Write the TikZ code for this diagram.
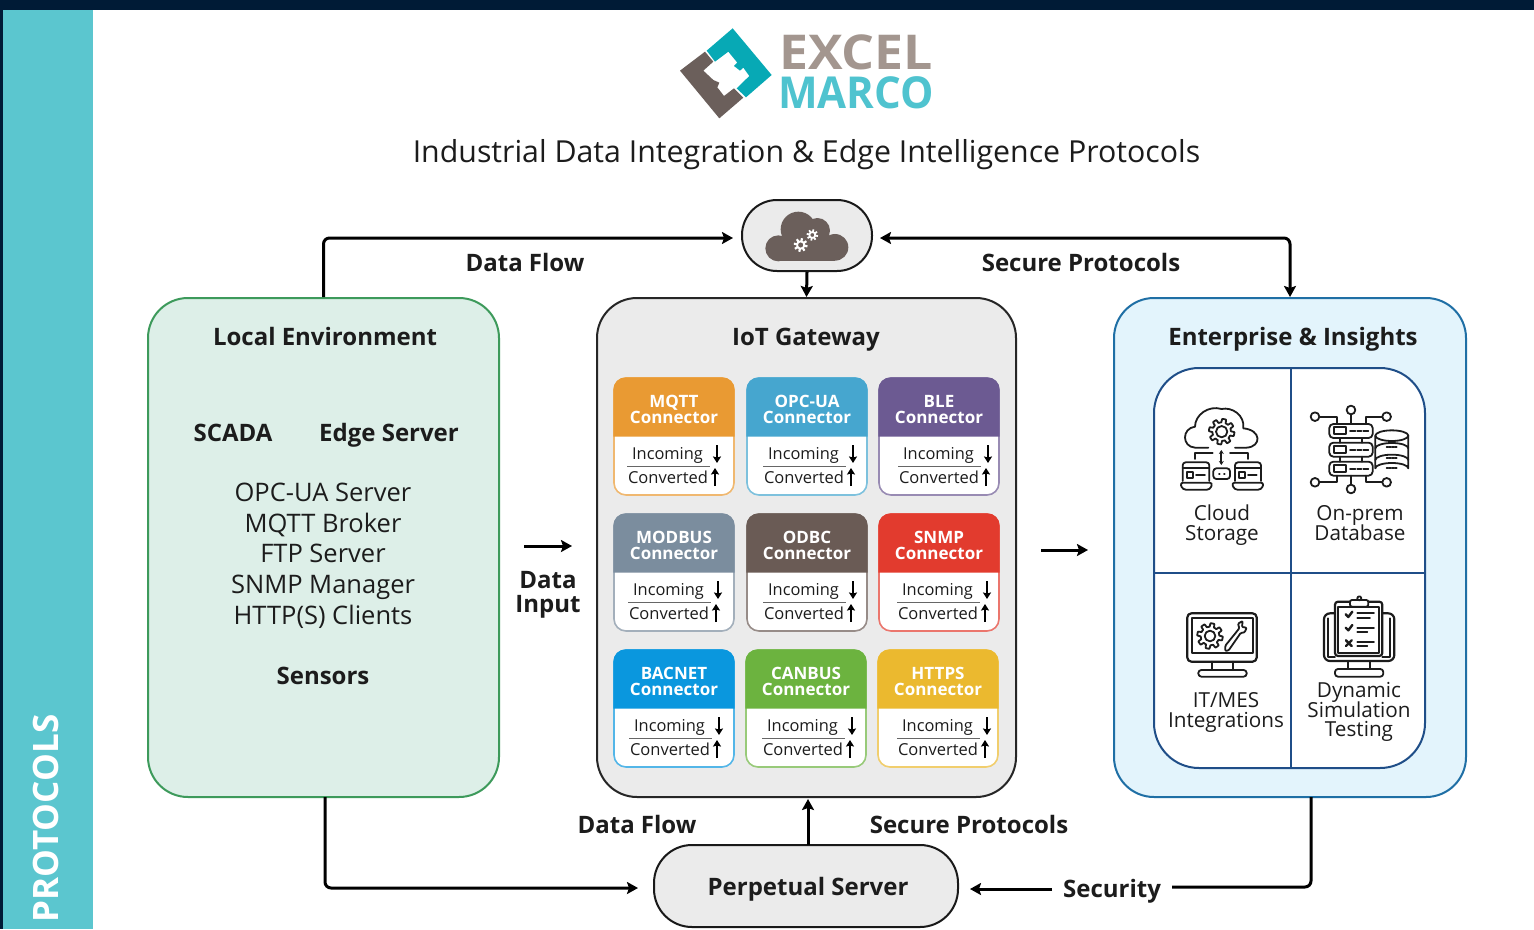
\documentclass[tikz,border=0pt]{standalone}
\usepackage{fontspec}
\usepackage{graphicx}
\setmainfont{Open Sans}
\usetikzlibrary{arrows.meta,positioning}
\definecolor{navy}{HTML}{001B36}
\definecolor{barteal}{HTML}{5BC6CF}
\definecolor{logoteal}{HTML}{07A9B5}
\definecolor{logogray}{HTML}{6B5F5B}
\definecolor{logotxt}{HTML}{A3968F}
\definecolor{logocy}{HTML}{4FC3CF}
\definecolor{ink}{HTML}{1C1C1C}
\definecolor{panelblue}{HTML}{1F4E88}
\definecolor{localfill}{HTML}{DDEFE8}
\definecolor{localedge}{HTML}{3D9A5B}
\definecolor{entfill}{HTML}{E3F4FC}
\definecolor{entedge}{HTML}{1F6FA5}
\tikzset{
 x=1pt,y=-1pt,
 fs/.style={font=\fontsize{#1pt}{#1pt}\selectfont,text height=0.72*#1 pt,text depth=0pt,inner sep=0pt,anchor=center,text=ink},
 fb/.style={font=\fontsize{#1pt}{#1pt}\selectfont\bfseries,text height=0.72*#1 pt,text depth=0pt,inner sep=0pt,anchor=center,text=ink,yshift=-.6pt},
 bigbox/.style={rounded corners=40pt,line width=2pt,inner sep=0pt,draw},
 flow/.style={line width=3pt,draw=black,rounded corners=6pt,-{Stealth[length=11pt,width=12pt,inset=2pt]}},
 flowb/.style={line width=3pt,draw=black,rounded corners=6pt,{Stealth[length=11pt,width=12pt,inset=2pt]}-{Stealth[length=11pt,width=12pt,inset=2pt]}},
 plain/.style={line width=3pt,draw=black,rounded corners=6pt},
 mini/.style={line width=2.2pt,draw=black,-{Stealth[length=6.5pt,width=8pt,inset=1pt]}},
 ic/.style={line width=1.8pt,draw=ink,line join=round,line cap=round},
}
% \cardbox{name}{x}{y}{colour}{line1}{line2}{dx}
\newcommand{\cardbox}[7]{%
 \draw[#4!70!white,line width=1.6pt,fill=white,rounded corners=12pt] (#2,#3) rectangle ++(120,117);
 \fill[#4,rounded corners=12pt] (#2-.6,#3+30) -- (#2-.6,#3-.6) -- (#2+120.6,#3-.6) -- (#2+120.6,#3+30) [sharp corners] -- (#2+120.6,#3+58.5) -- (#2-.6,#3+58.5) -- cycle;
 \node[fb=17,text=white] (#1a) at (#2+60,#3+23) {#5};
 \node[fb=17,text=white] (#1b) at (#2+60,#3+39) {#6};
 \node[fs=16.4] (#1i) at (#2+53.5+#7,#3+76) {Incoming};
 \node[fs=16.5] (#1c) at (#2+54+#7,#3+100) {Converted};
 \draw[line width=.8pt,draw=black!60] (#2+13+#7,#3+88) -- (#2+96+#7,#3+88);
 \draw[mini] (#2+103+#7,#3+67) -- (#2+103+#7,#3+85);
 \draw[mini] (#2+101+#7,#3+108) -- (#2+101+#7,#3+90);
}
% outlined gear in current units
\newcommand{\gearout}[4]{% x y R hole
 \draw[ic,fill=white] plot[domain=0:360,samples=145] ({#1+(#3*(1+.16*max(min(3*sin(8*\x),1),-1)))*cos(\x)},{#2+(#3*(1+.16*max(min(3*sin(8*\x),1),-1)))*sin(\x)}) -- cycle;
 \draw[ic] (#1,#2) circle[radius=#4];
}
\newcommand{\gearsolid}[4]{%
 \fill[white,even odd rule] plot[domain=0:360,samples=145] ({#1+(#3*(1+.22*max(min(3*sin(8*\x),1),-1)))*cos(\x)},{#2+(#3*(1+.22*max(min(3*sin(8*\x),1),-1)))*sin(\x)}) -- cycle (#1,#2) circle[radius=#4];
}
\begin{document}
\begin{tikzpicture}
\useasboundingbox (0,0) rectangle (1534,929);
\fill[white] (0,0) rectangle (1534,929);
\fill[navy] (0,0) rectangle (1534,10);
\fill[navy] (0,0) rectangle (3,929);
\fill[barteal] (3,10) rectangle (93,929);
\node[fb=35,text=white,rotate=90] (sidebar) at (46,818) {PROTOCOLS};

% logo
\begin{scope}[shift={(660,0)},x=.3333pt,y=-.3333pt]
 \fill[logoteal] (218,85)--(335,225)--(258,292)--(230,265)--(268,228)--(250,203)--(240,212)--(222,198)--(232,188)--(205,155)--(165,185)--(140,152)--cycle;
 \fill[logogray] (135,155)--(60,212)--(178,355)--(250,293)--(222,265)--(192,288)--(172,262)--(178,248)--(160,240)--(130,212)--(160,185)--cycle;
\end{scope}
\node[font=\fontsize{48}{48}\selectfont\bfseries,text=logotxt,inner sep=0pt,anchor=center,text height=34pt,text depth=0pt] (excel) at (856,52) {\scalebox{1.08}[1]{EXCEL}};
\node[font=\fontsize{44}{44}\selectfont\bfseries,text=logocy,inner sep=0pt,anchor=center,text height=32pt,text depth=0pt] (marco) at (856,92.5) {\scalebox{.955}[1]{MARCO}};
\node[fs=30.3] (title) at (806.5,152) {Industrial Data Integration \& Edge Intelligence Protocols};

% main boxes
\node[bigbox,draw=localedge,fill=localfill,minimum width=351pt,minimum height=499pt] (local) at (323.5,547.5) {};
\node[bigbox,draw=black!85,fill=black!8,minimum width=419pt,minimum height=499pt] (gateway) at (806.5,547.5) {};
\node[bigbox,draw=entedge,fill=entfill,minimum width=352pt,minimum height=499pt] (enterprise) at (1290,547.5) {};
\node[draw=black!90,line width=2pt,fill=black!8,rounded corners=35pt,minimum width=130pt,minimum height=71pt,inner sep=0pt] (cloudhub) at (807,235.5) {};
\node[draw=black!90,line width=2pt,fill=black!8,rounded corners=38pt,minimum width=304pt,minimum height=82pt,inner sep=0pt] (perp) at (806,886) {};

% connectors
\coordinate (hubL) at (733,238);
\coordinate (hubR) at (880,238);
\coordinate (pin) at (638,888);
\coordinate (secEnd) at (1172,887);
\coordinate (secA) at (1052,889);
\coordinate (secB) at (970,889);
\coordinate (inA) at (524,546);
\coordinate (inB) at (572,546);
\coordinate (outA) at (1041,550);
\coordinate (outB) at (1088,550);
\coordinate (locBot) at (325,797);
\coordinate (entBot) at (1311,797);
\coordinate (perpTop) at (808,845);
\coordinate (gwBot) at (808,799);
\draw[flow] (local.north) |- (hubL);
\draw[flowb] (hubR) -| (enterprise.north);
\draw[flow] (cloudhub.south) -- (gateway.north);
\draw[flow] (locBot) |- (pin);
\draw[plain] (entBot) |- (secEnd);
\draw[flow] (secA) -- (secB);
\draw[flow] (perpTop) -- (gwBot);
\draw[flow] (inA) -- (inB);
\draw[flow] (outA) -- (outB);

% hub cloud icon
\begin{scope}[shift={(730,190)},x=.3333pt,y=-.3333pt]
 \fill[logogray] (145,175) circle[radius=39] (205,118) circle[radius=53] (262,122) circle[radius=38] (315,172) circle[radius=40];
 \fill[logogray] (145,150) rectangle (315,213);
 \gearsolid{212}{165}{17}{8}
 \gearsolid{247}{135}{14}{6}
\end{scope}

% labels
\node[fb=24] (lf1) at (525,262) {Data Flow};
\node[fb=24] (lf2) at (1081,262) {Secure Protocols};
\node[fb=24] (lf3) at (637,824) {Data Flow};
\node[fb=24] (lf4) at (969,824) {Secure Protocols};
\node[fb=24] (lf5) at (1112,888) {Security};
\node[fb=24] (lf6) at (808,886) {Perpetual Server};
\node[fb=24] (di1) at (548,579) {Data};
\node[fb=24] (di2) at (548,603) {Input};

% local text
\node[fb=24] (loct) at (325,336) {Local Environment};
\node[fb=24] (scada) at (233,432) {SCADA};
\node[fb=24] (edge) at (389,432) {Edge Server};
\node[fs=25.5] (l1) at (323,492) {OPC-UA Server};
\node[fs=25.5] (l2) at (323,523) {MQTT Broker};
\node[fs=25.5] (l3) at (323,553) {FTP Server};
\node[fs=25.5] (l4) at (323,584) {SNMP Manager};
\node[fs=25.5] (l5) at (323,615) {HTTP(S) Clients};
\node[fb=24] (sens) at (323,675) {Sensors};

% gateway
\node[fb=24] (gwt) at (806,336) {IoT Gateway};
\definecolor{cmqtt}{HTML}{E99A33}
\definecolor{copc}{HTML}{46A6CF}
\definecolor{cble}{HTML}{6C5A92}
\definecolor{cmod}{HTML}{7B8D9E}
\definecolor{codbc}{HTML}{6A5B55}
\definecolor{csnmp}{HTML}{E23B2E}
\definecolor{cbac}{HTML}{0A97DE}
\definecolor{ccan}{HTML}{6CB33F}
\definecolor{chttps}{HTML}{EBB92F}
\cardbox{mqtt}{614}{378}{cmqtt}{MQTT}{Connector}{0}
\cardbox{opc}{747}{378}{copc}{OPC-UA}{Connector}{3}
\cardbox{ble}{879}{378}{cble}{BLE}{Connector}{6}
\cardbox{mod}{614}{514}{cmod}{MODBUS}{Connector}{1}
\cardbox{odbc}{747}{514}{codbc}{ODBC}{Connector}{3}
\cardbox{snmp}{879}{514}{csnmp}{SNMP}{Connector}{5}
\cardbox{bac}{614}{650}{cbac}{BACNET}{Connector}{2}
\cardbox{can}{746}{650}{ccan}{CANBUS}{Connector}{3}
\cardbox{http}{878}{650}{chttps}{HTTPS}{Connector}{6}

% enterprise
\node[fb=24] (ent) at (1293,336) {Enterprise \& Insights};
\draw[panelblue,line width=2pt,fill=white,rounded corners=45pt] (1154,368) rectangle (1425,768);
\draw[panelblue,line width=2pt] (1290.5,368) -- (1290.5,768);
\draw[panelblue,line width=2pt] (1154,572.5) -- (1425,572.5);

\node[fs=20.7] (c1) at (1222,513) {Cloud};
\node[fs=20.7] (c2) at (1222,533) {Storage};
\node[fs=20.7] (o1) at (1360,513) {On-prem};
\node[fs=20.7] (o2) at (1360,533) {Database};
\node[fs=20.7] (m1) at (1226,700) {IT/MES};
\node[fs=20.7] (m2) at (1226,720) {Integrations};
\node[fs=20.7] (t1) at (1359,690) {Dynamic};
\node[fs=20.7] (t2) at (1359,710) {Simulation};
\node[fs=20.7] (t3) at (1359,729) {Testing};

% cloud storage icon
\begin{scope}[shift={(1150,365)},x=.3333pt,y=-.3333pt]
 \draw[ic] (175,248) -- (135,248) .. controls (95,245) and (95,190) .. (135,185) .. controls (135,150) and (175,120) .. (215,132) .. controls (245,125) and (285,150) .. (280,190) .. controls (335,195) and (335,245) .. (290,248) -- (255,248);
 \gearout{215}{200}{33}{17}
 \draw[ic,{Stealth[length=4pt,width=5pt]}-{Stealth[length=4pt,width=5pt]}] (214,255) -- (214,300);
 \draw[ic] (135,282) -- (135,265) -- (188,265);
 \draw[ic] (240,265) -- (295,265) -- (295,282);
 \draw[ic,rounded corners=3pt] (98,348) -- (98,292) -- (178,292) -- (178,348);
 \draw[ic] (98,308) -- (178,308);
 \draw[ic] (112,322) rectangle (128,338);
 \draw[ic] (138,330) -- (165,330);
 \draw[ic,rounded corners=3pt] (90,353) -- (188,353) -- (180,374) -- (98,374) -- cycle;
 \draw[ic,rounded corners=3pt] (255,348) -- (255,292) -- (333,292) -- (333,348);
 \draw[ic] (255,308) -- (333,308);
 \draw[ic] (268,322) rectangle (284,338);
 \draw[ic] (294,330) -- (320,330);
 \draw[ic,rounded corners=3pt] (245,353) -- (342,353) -- (334,374) -- (253,374) -- cycle;
 \draw[ic,rounded corners=3pt] (190,310) rectangle (240,342);
 \draw[ic] (207,326) -- (209,326) (222,326) -- (224,326);
\end{scope}

% on-prem icon
\begin{scope}[shift={(1150,365)},x=.3333pt,y=-.3333pt]
 \foreach \yy in {177,233,290}{
  \draw[ic,rounded corners=4pt] (538,\yy) rectangle (668,\yy+42);
  \draw[ic] (553,\yy+10) rectangle (588,\yy+30);
  \draw[ic] (600,\yy+21) -- (616,\yy+21) (622,\yy+21) -- (634,\yy+21) (640,\yy+21) -- (655,\yy+21);
 }
 \draw[ic] (570,219) -- (570,233) (636,219) -- (636,233) (570,275) -- (570,290) (636,275) -- (636,290);
 \draw[ic] (603,148) -- (603,177) (603,332) -- (603,358);
 \draw[ic] (509,155) -- (560,155) -- (560,177);
 \draw[ic] (696,155) -- (648,155) -- (648,177);
 \draw[ic] (509,352) -- (560,352) -- (560,332);
 \draw[ic] (696,352) -- (648,352) -- (648,332);
 \foreach \cx/\cy in {603/135,495/155,710/155,495/352,710/352,603/372}{\draw[ic] (\cx,\cy) circle[radius=13];}
 \draw[ic,fill=white] (676,212) -- (676,310) arc[start angle=180,end angle=360,x radius=49.5,y radius=16] -- (775,212);
 \draw[ic,fill=white] (725.5,212) ellipse[x radius=49.5,y radius=16];
 \draw[ic] (676,250) arc[start angle=180,end angle=360,x radius=49.5,y radius=16];
 \draw[ic] (676,285) arc[start angle=180,end angle=360,x radius=49.5,y radius=16];
 \draw[ic,densely dotted] (710,247) -- (740,247) (710,279) -- (740,279) (710,310) -- (740,310);
\end{scope}

% monitor icon
\begin{scope}[shift={(1150,575)},x=.3333pt,y=-.3333pt]
 \draw[ic,line width=2.2pt,rounded corners=4pt] (112,115) rectangle (320,260);
 \draw[ic] (125,128) rectangle (308,235);
 \draw[ic] (185,260) -- (185,285) (248,260) -- (248,285);
 \draw[ic,rounded corners=3pt] (145,285) rectangle (290,305);
 \gearout{180}{183}{33}{16}
 \draw[ic,rounded corners=1pt] (226,212) -- (268,160) -- (264,146) -- (278,138) -- (276,156) -- (290,158) -- (284,172) -- (272,174) -- (236,226) -- (226,228) -- cycle;
\end{scope}

% clipboard icon
\begin{scope}[shift={(1150,575)},x=.3333pt,y=-.3333pt]
 \draw[ic,line width=2.2pt,rounded corners=6pt] (522,115) rectangle (733,258);
 \draw[ic] (535,130) -- (535,245) -- (555,245) (720,130) -- (720,245) -- (697,245);
 \draw[ic] (595,258) -- (595,282) (660,258) -- (660,282);
 \draw[ic,rounded corners=3pt] (555,282) rectangle (700,305);
 \draw[ic,fill=white,line width=2.2pt,rounded corners=3pt] (555,80) rectangle (697,243);
 \draw[ic] (565,95) rectangle (688,233);
 \draw[ic,fill=white,rounded corners=2pt] (600,75) rectangle (655,95);
 \draw[ic] (628,70) circle[radius=6];
 \draw[ic,line width=2.4pt] (587,118) -- (595,126) -- (607,110);
 \draw[ic,line width=2.4pt] (587,158) -- (595,166) -- (607,150);
 \draw[ic,line width=2.4pt] (588,196) -- (605,213) (605,196) -- (588,213);
 \draw[ic] (622,115) -- (672,115) (622,128) -- (660,128);
 \draw[ic] (622,158) -- (672,158) (622,171) -- (652,171);
 \draw[ic] (622,200) -- (672,200) (622,213) -- (652,213);
\end{scope}
\end{tikzpicture}
\end{document}
